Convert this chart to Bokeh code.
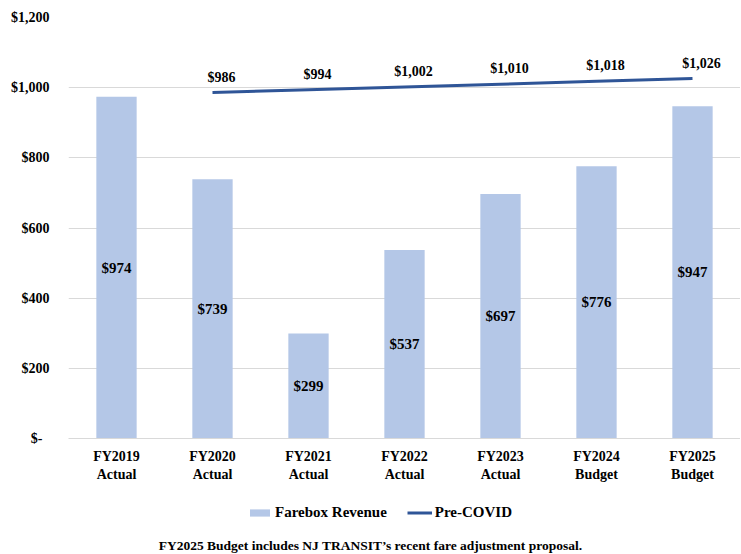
from bokeh.plotting import figure
from bokeh.layouts import column
from bokeh.models import (Range1d, FixedTicker, ColumnDataSource, Legend, LegendItem,
                          Label, LabelSet)
from bokeh.embed import file_html
from bokeh.resources import INLINE
from bokeh.core.properties import value

categories = ["FY2019\nActual", "FY2020\nActual", "FY2021\nActual", "FY2022\nActual",
              "FY2023\nActual", "FY2024\nBudget", "FY2025\nBudget"]
farebox = [974, 739, 299, 537, 697, 776, 947]
precovid_idx = [1, 2, 3, 4, 5, 6]
precovid = [986, 994, 1002, 1010, 1018, 1026]
y_ticks = [0, 200, 400, 600, 800, 1000, 1200]
y_tick_labels = ["$-  ", "$200", "$400", "$600", "$800", "$1,000", "$1,200"]
footnote = "FY2025 Budget includes NJ TRANSIT\u2019s recent fare adjustment proposal."

FONT = "Liberation Serif"
BAR_COLOR = "#B4C7E7"
LINE_COLOR = "#2F5597"

x = list(range(len(categories)))
bar_src = ColumnDataSource(dict(
    x=x, top=farebox, mid=[v / 2 for v in farebox],
    lab=["$%d" % v for v in farebox]))
line_src = ColumnDataSource(dict(
    x=precovid_idx, y=precovid, lab=["${:,}".format(v) for v in precovid]))

# ---- main chart ----
p = figure(width=740, height=486, output_backend="svg", toolbar_location=None,
           x_range=Range1d(-0.5, 6.5), y_range=Range1d(0, 1200),
           min_border_left=68, min_border_right=0, min_border_top=17,
           min_border_bottom=48)
p.outline_line_color = None

p.vbar(x="x", top="top", width=0.42, source=bar_src,
       fill_color=BAR_COLOR, line_color=None)
p.line(x="x", y="y", source=line_src, line_color=LINE_COLOR, line_width=3)

p.add_layout(LabelSet(x="x", y="mid", text="lab", source=bar_src,
                      text_align="center", text_baseline="middle",
                      text_font=value(FONT), text_font_style="bold",
                      text_font_size="15px", text_color="#000000"))
p.add_layout(LabelSet(x="x", y="y", text="lab", source=line_src,
                      x_offset=9, y_offset=8,
                      text_align="center", text_baseline="bottom",
                      text_font=value(FONT), text_font_style="bold",
                      text_font_size="14px", text_color="#000000"))

p.xaxis.ticker = FixedTicker(ticks=x)
p.xaxis.major_label_overrides = {i: c for i, c in zip(x, categories)}
p.yaxis.ticker = FixedTicker(ticks=y_ticks)
p.yaxis.major_label_overrides = {t: l for t, l in zip(y_ticks, y_tick_labels)}
for ax in (p.xaxis, p.yaxis):
    ax.major_tick_line_color = None
    ax.minor_tick_line_color = None
    ax.major_label_text_font = FONT
    ax.major_label_text_font_style = "bold"
    ax.major_label_text_font_size = "14px"
    ax.major_label_text_color = "#000000"
p.yaxis.axis_line_color = None
p.yaxis.major_label_standoff = 13
p.xaxis.axis_line_color = "#D9D9D9"
p.xaxis.major_label_standoff = 4
p.xgrid.grid_line_color = None
p.ygrid.grid_line_color = "#D9D9D9"
p.ygrid.ticker = FixedTicker(ticks=y_ticks)

# ---- legend + footnote strip (same series drawn out of view; only legend shows) ----
f = figure(width=740, height=68, output_backend="svg", toolbar_location=None,
           x_range=Range1d(100, 101), y_range=Range1d(5000, 5001),
           min_border=0)
f.outline_line_color = None
f.axis.visible = False
f.grid.visible = False
leg_bar = f.vbar(x="x", top="top", width=0.42, source=bar_src,
                 fill_color=BAR_COLOR, line_color=None)
leg_line = f.line(x="x", y="y", source=line_src, line_color=LINE_COLOR, line_width=3)

legend = Legend(items=[LegendItem(label="Farebox Revenue", renderers=[leg_bar]),
                       LegendItem(label="Pre-COVID", renderers=[leg_line])],
                orientation="horizontal", location=(179, 33),
                label_text_font=FONT, label_text_font_size="15px",
                label_text_font_style="bold",
                label_text_color="#000000", label_standoff=3,
                glyph_width=25, glyph_height=9, spacing=20,
                border_line_color=None, background_fill_alpha=0,
                margin=0, padding=0)
f.add_layout(legend, "center")

f.add_layout(Label(x=302, y=9, x_units="screen", y_units="screen", text=footnote,
                   text_align="center", text_baseline="middle",
                   text_font=FONT, text_font_size="13.5px", text_font_style="bold",
                   text_color="#000000"))

layout = column(p, f, spacing=0)
open("out.html", "w").write(file_html(layout, INLINE))
